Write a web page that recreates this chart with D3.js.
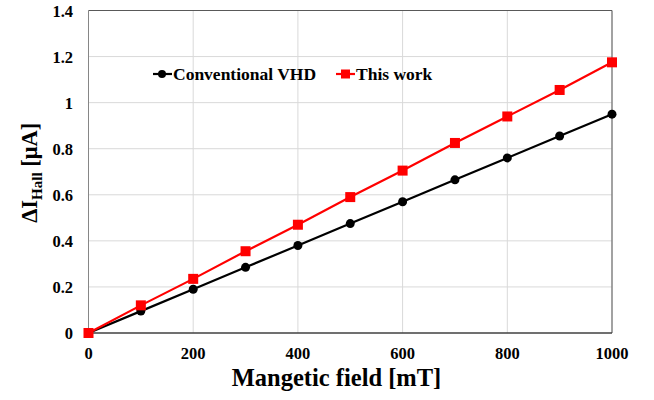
<!DOCTYPE html>
<html>
<head>
<meta charset="utf-8">
<script src="https://cdn.jsdelivr.net/npm/d3@7"></script>
<style>
  body { margin: 0; background: #fff; }
</style>
</head>
<body>
<div id="chart"></div>
<script>
const fieldMT = [0, 100, 200, 300, 400, 500, 600, 700, 800, 900, 1000];
const conventional = [0, 0.095, 0.19, 0.285, 0.38, 0.475, 0.57, 0.665, 0.76, 0.855, 0.95];
const thisWork = [0, 0.12, 0.235, 0.355, 0.47, 0.59, 0.705, 0.825, 0.94, 1.055, 1.175];
const xTicks = [0, 200, 400, 600, 800, 1000];
const yTicks = [0, 0.2, 0.4, 0.6, 0.8, 1, 1.2, 1.4];

const FONT = "'Liberation Serif'";

const margin = {top: 10.5, right: 42, bottom: 67, left: 88.5},
    width = 654 - margin.left - margin.right,
    height = 400 - margin.top - margin.bottom;

const svg = d3.select("#chart").append("svg")
    .attr("width", 654)
    .attr("height", 400)
  .append("g")
    .attr("transform", "translate(" + margin.left + "," + margin.top + ")");

const x = d3.scaleLinear().domain([0, 1000]).range([0, width]);
const y = d3.scaleLinear().domain([0, 1.4]).range([height, 0]);

// grid
svg.selectAll("line.hgrid").data(yTicks.slice(1))
    .enter().append("line")
    .attr("x1", 0).attr("x2", width)
    .attr("y1", d => y(d)).attr("y2", d => y(d))
    .attr("stroke", "#d9d9d9").attr("stroke-width", 1);

svg.selectAll("line.vgrid").data(xTicks.slice(1))
    .enter().append("line")
    .attr("x1", d => x(d)).attr("x2", d => x(d))
    .attr("y1", 0).attr("y2", height)
    .attr("stroke", "#d9d9d9").attr("stroke-width", 1);

// frame
svg.append("line").attr("x1", 0).attr("x2", width).attr("y1", 0).attr("y2", 0)
    .attr("stroke", "#595959");
svg.append("line").attr("x1", width).attr("x2", width).attr("y1", 0).attr("y2", height)
    .attr("stroke", "#595959");
svg.append("line").attr("x1", 0).attr("x2", 0).attr("y1", 0).attr("y2", height)
    .attr("stroke", "#868686");
svg.append("line").attr("x1", 0).attr("x2", width).attr("y1", height).attr("y2", height)
    .attr("stroke", "#404040").attr("stroke-width", 1.3);

// tick labels
svg.selectAll("text.ylab").data(yTicks)
    .enter().append("text")
    .attr("x", -15.5)
    .attr("y", d => y(d) + 6)
    .attr("text-anchor", "end")
    .style("font-family", FONT).style("font-weight", "bold")
    .style("font-size", "16.5px")
    .text(d => d);

svg.selectAll("text.xlab").data(xTicks)
    .enter().append("text")
    .attr("x", d => x(d))
    .attr("y", height + 26)
    .attr("text-anchor", "middle")
    .style("font-family", FONT).style("font-weight", "bold")
    .style("font-size", "16.5px")
    .text(d => d);

// axis titles
svg.append("text")
    .attr("x", 248)
    .attr("y", height + 53)
    .attr("text-anchor", "middle")
    .style("font-family", FONT).style("font-weight", "bold")
    .style("font-size", "24.5px")
    .text("Mangetic field [mT]");

const yt = svg.append("text")
    .attr("transform", "translate(-52," + (height / 2 + 1) + ") rotate(-90)")
    .attr("text-anchor", "middle")
    .style("font-family", FONT).style("font-weight", "bold")
    .style("font-size", "22.5px");
yt.append("tspan").text("ΔI");
yt.append("tspan").attr("dy", 5).style("font-size", "15px").text("Hall");
yt.append("tspan").attr("dy", -5).text(" [μA]");

// series
const series = [
    {name: "Conventional VHD", values: conventional, color: "#000000", shape: "circle"},
    {name: "This work", values: thisWork, color: "#ff0000", shape: "square"}
];

const line = d3.line().x((d, i) => x(fieldMT[i])).y(d => y(d));

series.forEach(s => {
    svg.append("path")
        .datum(s.values)
        .attr("fill", "none")
        .attr("stroke", s.color)
        .attr("stroke-width", 2.2)
        .attr("d", line);
    if (s.shape === "circle") {
        svg.selectAll(null).data(s.values).enter().append("circle")
            .attr("cx", (d, i) => x(fieldMT[i]))
            .attr("cy", d => y(d))
            .attr("r", 4.5)
            .attr("fill", s.color);
    } else {
        svg.selectAll(null).data(s.values).enter().append("rect")
            .attr("x", (d, i) => x(fieldMT[i]) - 5)
            .attr("y", d => y(d) - 5)
            .attr("width", 10).attr("height", 10)
            .attr("fill", s.color);
    }
});

// legend
const legendPos = [153 - margin.left, 336 - margin.left];
const legendY = 74 - margin.top;
series.forEach((s, i) => {
    const g = svg.append("g").attr("transform", "translate(" + legendPos[i] + "," + legendY + ")");
    g.append("line").attr("x1", 0).attr("x2", 19).attr("y1", 0).attr("y2", 0)
        .attr("stroke", s.color).attr("stroke-width", 2.2);
    if (s.shape === "circle") {
        g.append("circle").attr("cx", 9).attr("cy", 0).attr("r", 4).attr("fill", s.color);
    } else {
        g.append("rect").attr("x", 5).attr("y", -4.5).attr("width", 9).attr("height", 9).attr("fill", s.color);
    }
    g.append("text").attr("x", 20).attr("y", 6)
        .style("font-family", FONT).style("font-weight", "bold")
        .style("font-size", "17.5px")
        .text(s.name);
});
</script>
</body>
</html>
